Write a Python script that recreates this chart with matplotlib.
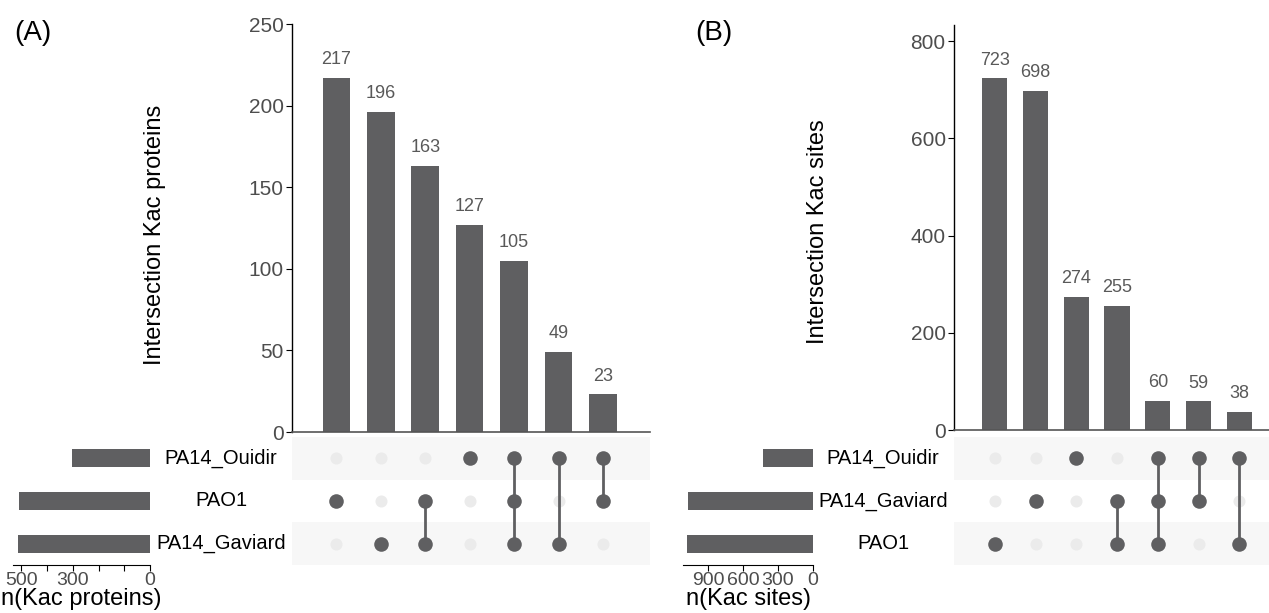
import numpy as np
import matplotlib.pyplot as plt

plt.rcParams['font.family'] = ['Liberation Sans', 'DejaVu Sans']

# Panel A: Kac proteins
sets_a = ["PA14_Ouidir", "PAO1", "PA14_Gaviard"]          # top to bottom
set_sizes_a = [304, 508, 513]
inter_a = [217, 196, 163, 127, 105, 49, 23]
combos_a = [["PAO1"], ["PA14_Gaviard"], ["PAO1", "PA14_Gaviard"], ["PA14_Ouidir"],
            ["PA14_Ouidir", "PAO1", "PA14_Gaviard"], ["PA14_Ouidir", "PA14_Gaviard"],
            ["PA14_Ouidir", "PAO1"]]

# Panel B: Kac sites
sets_b = ["PA14_Ouidir", "PA14_Gaviard", "PAO1"]
set_sizes_b = [431, 1072, 1076]
inter_b = [723, 698, 274, 255, 60, 59, 38]
combos_b = [["PAO1"], ["PA14_Gaviard"], ["PA14_Ouidir"], ["PA14_Gaviard", "PAO1"],
            ["PA14_Ouidir", "PA14_Gaviard", "PAO1"], ["PA14_Ouidir", "PA14_Gaviard"],
            ["PA14_Ouidir", "PAO1"]]

W, H = 1269, 613
BAR = "#5f5f61"
TICK = "#4d4d4d"
LIGHT = "#ebebeb"
SHADE = "#f7f7f7"

fig = plt.figure(figsize=(W / 100, H / 100), dpi=100)


def box(x0, y0, x1, y1):
    # pixel box (top-left origin) -> figure fraction rect
    return [x0 / W, 1 - y1 / H, (x1 - x0) / W, (y1 - y0) / H]


def panel(sets, sizes, inter, combos, bar_box, mat_box, set_box, ymax, yticks,
          xright, setmax, set_ticks, set_labels, ylabel, ylab_xy, xlabel, letter,
          letter_x, name_x):
    n = len(inter)
    x = np.arange(n)

    # intersection bars
    ax = fig.add_axes(box(*bar_box))
    ax.bar(x, inter, width=0.62, color=BAR)
    for xi, v in zip(x, inter):
        ax.annotate(str(v), (xi, v), xytext=(0, 7), textcoords="offset points",
                    ha="center", va="bottom", fontsize=13, color="#595959")
    ax.set_xlim(-1, xright)
    ax.set_ylim(0, ymax)
    ax.set_yticks(yticks)
    ax.tick_params(axis="y", labelsize=15, colors="black", labelcolor=TICK,
                   length=4, width=0.8, pad=2)
    ax.set_xticks([])
    for s in ["top", "right"]:
        ax.spines[s].set_visible(False)
    ax.spines["bottom"].set_color("#555555")
    ax.spines["bottom"].set_linewidth(1.2)
    ax.spines["left"].set_linewidth(1.0)
    fig.text(ylab_xy[0] / W, 1 - ylab_xy[1] / H, ylabel,
             rotation=90, ha="center", va="center", fontsize=17)

    # matrix
    mx = fig.add_axes(box(*mat_box))
    nrow = len(sets)
    for r in range(nrow):
        if r % 2 == 0:
            mx.axhspan(nrow - 1 - r - 0.5, nrow - 1 - r + 0.5, color=SHADE, lw=0)
    yrow = {s: nrow - 1 - i for i, s in enumerate(sets)}
    for xi, combo in zip(x, combos):
        ys = [yrow[s] for s in combo]
        mx.scatter([xi] * nrow, list(yrow.values()), s=75, color=LIGHT, zorder=2,
                   lw=0)
        if len(ys) > 1:
            mx.plot([xi, xi], [min(ys), max(ys)], color=BAR, lw=2, zorder=3)
        mx.scatter([xi] * len(ys), ys, s=110, color=BAR, zorder=4, lw=0)
    mx.set_xlim(-1, xright)
    mx.set_ylim(-0.5, nrow - 0.5)
    mx.axis("off")

    # set names
    for s in sets:
        fig.text(name_x / W, 1 - (mat_box[1] + (nrow - 1 - yrow[s] + 0.5) *
                                  (mat_box[3] - mat_box[1]) / nrow) / H,
                 s, ha="center", va="center", fontsize=14.5)

    # set sizes
    sx = fig.add_axes(box(*set_box))
    sx.barh([yrow[s] for s in sets], sizes, height=0.42, color=BAR)
    sx.set_xlim(setmax, 0)
    sx.set_ylim(-0.5, nrow - 0.5)
    sx.set_yticks([])
    sx.set_xticks(set_ticks)
    sx.set_xticklabels(set_labels)
    sx.tick_params(axis="x", labelsize=14, labelcolor=TICK, length=4, width=0.8,
                   pad=1)
    for s in ["top", "right", "left"]:
        sx.spines[s].set_visible(False)
    sx.set_xlabel(xlabel, fontsize=17, labelpad=-1)

    fig.text(letter_x / W, 1 - 33 / H, letter, fontsize=20, ha="left", va="center")


panel(sets_a, set_sizes_a, inter_a, combos_a,
      bar_box=(292, 24, 650, 432), mat_box=(292, 437, 650, 565),
      set_box=(13, 437, 150, 565), ymax=250, yticks=[0, 50, 100, 150, 200, 250],
      xright=7.06, setmax=533, set_ticks=[500, 400, 300, 200, 100, 0],
      set_labels=["500", "", "300", "", "", "0"],
      ylabel="Intersection Kac proteins", ylab_xy=(155, 235), xlabel="n(Kac proteins)",
      letter="(A)", letter_x=14, name_x=221)

panel(sets_b, set_sizes_b, inter_b, combos_b,
      bar_box=(954, 25, 1269, 430), mat_box=(954, 437, 1269, 565),
      set_box=(683, 437, 813, 565), ymax=833, yticks=[0, 200, 400, 600, 800],
      xright=6.73, setmax=1114, set_ticks=[900, 600, 300, 0],
      set_labels=["900", "600", "300", "0"],
      ylabel="Intersection Kac sites", ylab_xy=(818, 232), xlabel="n(Kac sites)",
      letter="(B)", letter_x=695, name_x=883)

fig.savefig("out.png", dpi=100)
